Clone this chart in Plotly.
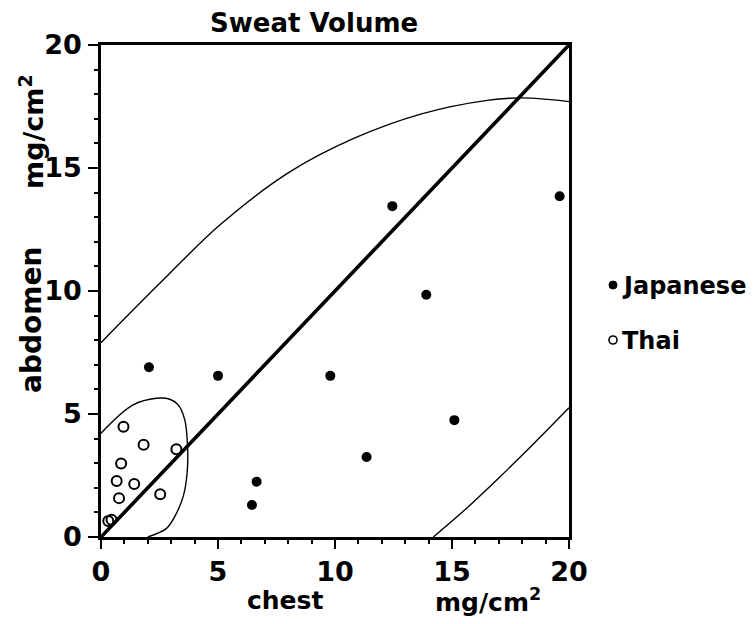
import plotly.graph_objects as go

# ---- data ----
japanese_x = [2.05, 5.0, 9.8, 6.65, 6.45, 12.45, 19.6, 13.9, 15.1, 11.35]
japanese_y = [6.9, 6.55, 6.55, 2.25, 1.3, 13.45, 13.85, 9.85, 4.75, 3.25]

thai_x = [0.96, 1.82, 3.22, 0.86, 0.67, 1.42, 0.77, 2.53, 0.31, 0.45]
thai_y = [4.48, 3.75, 3.57, 2.99, 2.28, 2.15, 1.58, 1.74, 0.65, 0.70]

diag_x = [0, 20]
diag_y = [0, 20]

upper_x = [0, 2.5, 5.1, 8.0, 10.8, 13.7, 16.5, 18.0, 20.0]
upper_y = [7.9, 10.3, 12.7, 14.8, 16.2, 17.2, 17.75, 17.85, 17.7]

lower_x = [14.2, 15.6, 17.0, 18.5, 20.0]
lower_y = [0.0, 1.15, 2.4, 3.8, 5.25]

thai_ell_x = [0.0, 1.37, 2.37, 2.94, 3.3, 3.58, 3.7, 3.68, 3.51, 3.15, 2.8, 2.0]
thai_ell_y = [4.22, 5.37, 5.64, 5.6, 5.37, 4.76, 3.67, 2.59, 1.64, 0.83, 0.35, 0.0]

tick_vals = [0, 5, 10, 15, 20]
tick_text = ["0", "5", "10", "15", "20"]

FONT = "DejaVu Sans"

fig = go.Figure()

for cx, cy in [(upper_x, upper_y), (lower_x, lower_y), (thai_ell_x, thai_ell_y)]:
    fig.add_trace(go.Scatter(x=cx, y=cy, mode="lines",
                             line=dict(color="black", width=1.4, shape="spline", smoothing=1.0),
                             showlegend=False, hoverinfo="skip"))

fig.add_trace(go.Scatter(x=diag_x, y=diag_y, mode="lines",
                         line=dict(color="black", width=3.6), showlegend=False))

fig.add_trace(go.Scatter(x=japanese_x, y=japanese_y, mode="markers", name="Japanese",
                         marker=dict(symbol="circle", size=10, color="black"),
                         showlegend=False))
fig.add_trace(go.Scatter(x=thai_x, y=thai_y, mode="markers", name="Thai",
                         marker=dict(symbol="circle-open", size=10, color="black",
                                     line=dict(width=2, color="black")),
                         showlegend=False))

axis_common = dict(range=[0, 20], tickvals=tick_vals, ticktext=tick_text,
                   showgrid=False, zeroline=False, showline=True, linecolor="black",
                   linewidth=2.5, mirror=True, ticks="outside", tickcolor="black",
                   tickwidth=2,
                   minor=dict(dtick=1, ticks="outside", ticklen=4, tickwidth=1.5,
                              tickcolor="black", showgrid=False))

fig.update_xaxes(**axis_common, ticklen=9, ticklabelstandoff=0,
                 tickfont=dict(family=FONT, size=27, color="black", weight="bold"))
fig.update_yaxes(**axis_common, ticklen=10, ticklabelstandoff=1,
                 tickfont=dict(family=FONT, size=27, color="black", weight="bold"))

OFF = 8  # page body margin
W, H = 756 - OFF, 624 - OFF
L, R, T, B = 101 - OFF, 187, 45 - OFF, 87
pw, ph = W - L - R, H - T - B

def px(x):
    return (x - OFF - L) / pw

def py(y):
    return (H + OFF - B - y) / ph

annotations = [
    dict(text="Sweat Volume", x=px(314), y=py(23), font=dict(size=26)),
    dict(text="chest", x=px(285), y=py(600), font=dict(size=25)),
    dict(text="mg/cm<sup>2</sup>", x=px(488), y=py(600), font=dict(size=25)),
    dict(text="abdomen", x=px(31), y=py(320), textangle=-90, font=dict(size=28)),
    dict(text="mg/cm<sup>2</sup>", x=px(31), y=py(132), textangle=-90, font=dict(size=27)),
    dict(text="Japanese", x=px(620), y=py(286), xanchor="left", font=dict(size=24)),
    dict(text="Thai", x=px(620), y=py(341), xanchor="left", font=dict(size=24)),
]
for a in annotations:
    a.setdefault("xanchor", "center")
    a.update(xref="paper", yref="paper", yanchor="middle", showarrow=False)
    a["font"].update(family=FONT, color="black", weight="bold")

shapes = [
    dict(type="circle", xref="paper", yref="paper", xsizemode="pixel", ysizemode="pixel",
         xanchor=px(613), yanchor=py(285), x0=-4, x1=4, y0=-4, y1=4,
         fillcolor="black", line=dict(color="black", width=1)),
    dict(type="circle", xref="paper", yref="paper", xsizemode="pixel", ysizemode="pixel",
         xanchor=px(613), yanchor=py(340), x0=-4, x1=4, y0=-4, y1=4,
         fillcolor="white", line=dict(color="black", width=1.6)),
]

fig.update_layout(width=W, height=H, margin=dict(l=L, r=R, t=T, b=B),
                  paper_bgcolor="white", plot_bgcolor="white",
                  annotations=annotations, shapes=shapes, showlegend=False,
                  font=dict(family=FONT, color="black"))

fig.write_html("out.html")
